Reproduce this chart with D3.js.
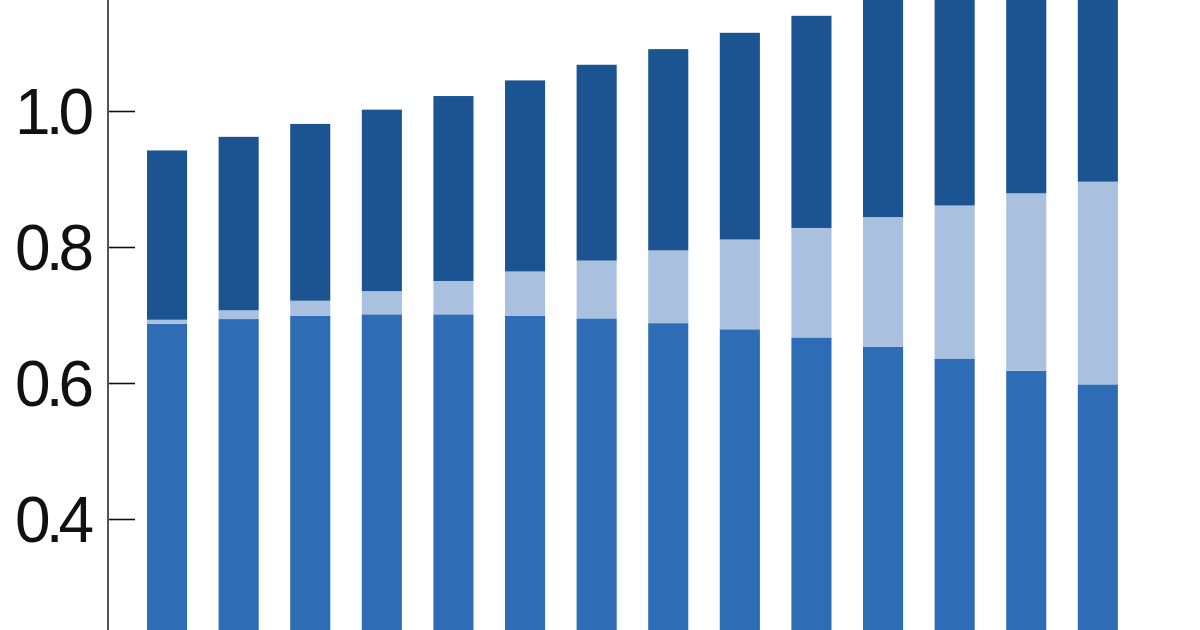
<!DOCTYPE html>
<html>
<head>
<meta charset="utf-8">
<script src="https://cdn.jsdelivr.net/npm/d3@7"></script>
<style>
  html, body { margin: 0; padding: 0; background: #fff; overflow: hidden; }
  #chart { width: 1200px; height: 630px; }
</style>
</head>
<body>
<div id="chart"></div>
<script>
// categories (x-axis sits below the visible crop)
var categories = ["1", "2", "3", "4", "5", "6", "7", "8", "9", "10", "11", "12", "13", "14"];
// bottom segment, medium blue
var baseValues = [0.687, 0.694, 0.699, 0.701, 0.701, 0.699, 0.695, 0.688, 0.679, 0.667, 0.653, 0.636, 0.618, 0.598];
// middle segment, light blue
var midValues = [0.006, 0.013, 0.022, 0.034, 0.049, 0.065, 0.085, 0.107, 0.132, 0.161, 0.191, 0.225, 0.261, 0.298];
// top segment, dark blue
var topValues = [0.249, 0.255, 0.260, 0.267, 0.272, 0.281, 0.288, 0.296, 0.304, 0.312, 0.321, 0.329, 0.336, 0.344];
var yTicks = [0.2, 0.4, 0.6, 0.8, 1.0, 1.2];
var yLabels = [0.4, 0.6, 0.8, 1.0];

var width = 1200, height = 630;

var svg = d3.select("#chart")
      .append("svg")
      .attr("width", width)
      .attr("height", height);

// table for the stack
var rows = categories.map(function (c, i) {
      return { cat: c, base: baseValues[i], mid: midValues[i], top: topValues[i] };
});
var stack = d3.stack().keys(["base", "mid", "top"]);
var series = stack(rows);
var colors = { base: "#2e6cb5", mid: "#a9c1de", top: "#1b5490" };

// x scale
var xScale = d3.scaleBand()
      .domain(categories)
      .range([131.25, 1133.65])
      .paddingInner(0.44)
      .paddingOuter(0.22);

// y scale, chart is cropped so zero lies below the window
var yScale = d3.scaleLinear()
      .domain([0, 1])
      .range([791, 111]);

// bars
svg.selectAll("g.layer")
      .data(series)
      .enter()
      .append("g")
      .attr("class", "layer")
      .attr("fill", function (d) { return colors[d.key]; })
      .selectAll("rect")
      .data(function (d) { return d; })
      .enter()
      .append("rect")
      .attr("x", function (d) { return xScale(d.data.cat); })
      .attr("width", xScale.bandwidth())
      .attr("y", function (d) { return yScale(d[1]); })
      .attr("height", function (d) { return yScale(d[0]) - yScale(d[1]); });

// y axis, ticks pointing inward
var axisX = 108;
var yAxis = svg.append("g")
      .attr("transform", "translate(" + axisX + ",0)")
      .call(d3.axisRight(yScale).tickValues(yTicks).tickSize(27).tickFormat(""));
yAxis.select(".domain").remove();
yAxis.selectAll(".tick line").attr("stroke", "#111").attr("stroke-width", 1.6);

svg.append("line")
      .attr("x1", axisX).attr("x2", axisX)
      .attr("y1", 0).attr("y2", height)
      .attr("stroke", "#555")
      .attr("stroke-width", 2);

// tick labels
svg.selectAll("text.ylab")
      .data(yLabels)
      .enter()
      .append("text")
      .attr("class", "ylab")
      .attr("x", 89)
      .attr("y", function (d) { return yScale(d) + 23; })
      .attr("text-anchor", "end")
      .attr("font-family", "'Liberation Sans', Arial, sans-serif")
      .attr("font-size", 64)
      .attr("letter-spacing", "-5px")
      .attr("fill", "#111")
      .text(function (d) { return d3.format(".1f")(d); });
</script>
</body>
</html>
